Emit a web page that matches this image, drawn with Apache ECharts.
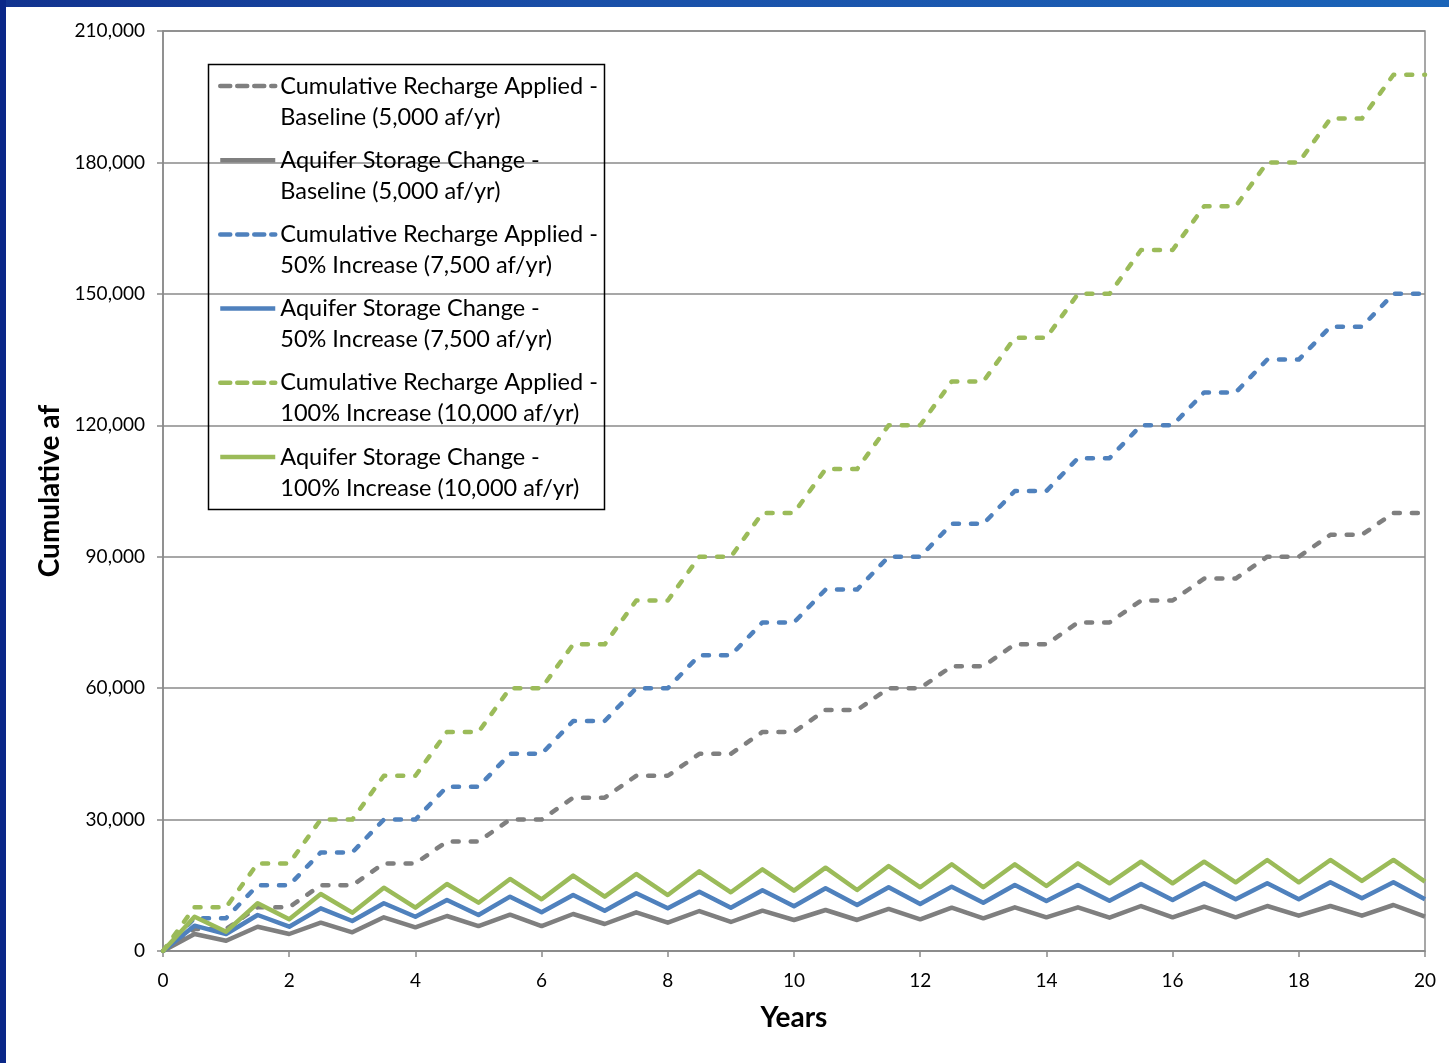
<!DOCTYPE html>
<html>
<head>
<meta charset="utf-8">
<script src="https://cdn.jsdelivr.net/npm/echarts@6/dist/echarts.min.js"></script>
<style>
  html, body { margin: 0; padding: 0; background: #fff; }
  #wrap { position: relative; width: 1449px; height: 1063px; overflow: hidden; background: #fff; }
  #chart { position: absolute; left: 0; top: 0; width: 1449px; height: 1063px; }
  .bar-top { position: absolute; left: 0; top: 0; width: 1449px; height: 7px;
             background: linear-gradient(to right, #12338f, #1a4fa8 40%, #1b64b8); }
  .bar-left { position: absolute; left: 0; top: 0; width: 6px; height: 1063px; background: #0a2788; }
</style>
</head>
<body>
<div id="wrap">
  <div id="chart"></div>
  <div class="bar-top"></div>
  <div class="bar-left"></div>
</div>
<script>
// Time axis, in years (half-year steps)
const years = [0,0.5,1,1.5,2,2.5,3,3.5,4,4.5,5,5.5,6,6.5,7,7.5,8,8.5,9,9.5,10,
               10.5,11,11.5,12,12.5,13,13.5,14,14.5,15,15.5,16,16.5,17,17.5,18,18.5,19,19.5,20];

// Cumulative recharge applied (af)
const rechargeBaseline = [0,5000,5000,10000,10000,15000,15000,20000,20000,25000,25000,
  30000,30000,35000,35000,40000,40000,45000,45000,50000,50000,55000,55000,60000,60000,
  65000,65000,70000,70000,75000,75000,80000,80000,85000,85000,90000,90000,95000,95000,100000,100000];
const recharge50 = [0,7500,7500,15000,15000,22500,22500,30000,30000,37500,37500,
  45000,45000,52500,52500,60000,60000,67500,67500,75000,75000,82500,82500,90000,90000,
  97500,97500,105000,105000,112500,112500,120000,120000,127500,127500,135000,135000,142500,142500,150000,150000];
const recharge100 = [0,10000,10000,20000,20000,30000,30000,40000,40000,50000,50000,
  60000,60000,70000,70000,80000,80000,90000,90000,100000,100000,110000,110000,120000,120000,
  130000,130000,140000,140000,150000,150000,160000,160000,170000,170000,180000,180000,190000,190000,200000,200000];

// Aquifer storage change (af)
const storageBaseline = [0,3880,2350,5550,3880,6460,4260,7690,5400,7990,5700,8290,5700,8450,6160,
  8830,6460,9130,6620,9200,7080,9360,7080,9590,7230,9890,7460,9970,7690,9970,7610,10270,7690,
  10120,7690,10270,8060,10270,8060,10500,7830];
const storage50 = [0,5780,3880,8220,5550,9740,6850,10890,7830,11640,8220,12400,8830,12780,9200,
  13170,9740,13540,9890,13860,10200,14310,10500,14540,10730,14690,11030,15070,11420,15070,11490,
  15300,11640,15450,11800,15450,11800,15680,12030,15680,11800];
const storage100 = [0,7830,4410,10890,7230,13010,8750,14450,9890,15300,11030,16440,11800,17200,12400,
  17580,12780,18190,13400,18650,13770,19020,13930,19400,14540,19790,14540,19790,14840,20020,15450,
  20390,15450,20390,15680,20780,15680,20780,15980,20780,15830];

const seriesNames = [
  'Cumulative Recharge Applied -\nBaseline (5,000 af/yr)',
  'Aquifer Storage Change -\nBaseline (5,000 af/yr)',
  'Cumulative Recharge Applied -\n50% Increase (7,500 af/yr)',
  'Aquifer Storage Change -\n50% Increase (7,500 af/yr)',
  'Cumulative Recharge Applied -\n100% Increase (10,000 af/yr)',
  'Aquifer Storage Change -\n100% Increase (10,000 af/yr)'
];
const seriesValues = [rechargeBaseline, storageBaseline, recharge50, storage50, recharge100, storage100];
const seriesColors = ['#7f7f7f', '#7f7f7f', '#4f81bd', '#4f81bd', '#9bbb59', '#9bbb59'];
const seriesDashed = [true, false, true, false, true, false];

const yTicks = [0, 30000, 60000, 90000, 120000, 150000, 180000, 210000];
const xTicks = [0, 2, 4, 6, 8, 10, 12, 14, 16, 18, 20];

const FONT = 'Lato, "Open Sans", sans-serif';

const series = seriesValues.map((vals, i) => ({
  name: seriesNames[i],
  type: 'line',
  data: vals.map((v, k) => [years[k], v]),
  symbol: 'none',
  smooth: false,
  z: 3 + i,
  lineStyle: {
    color: seriesColors[i],
    width: 4.5,
    type: seriesDashed[i] ? [6, 12] : 'solid',
    cap: seriesDashed[i] ? 'round' : 'butt',
    join: 'round'
  },
  itemStyle: { color: seriesColors[i] }
}));

const chart = echarts.init(document.getElementById('chart'), null, { renderer: 'canvas' });
chart.setOption({
  animation: false,
  backgroundColor: '#ffffff',
  grid: {
    left: 163, right: 24, top: 31, bottom: 112,
    show: true, borderColor: '#8a8a8a', borderWidth: 1.5, backgroundColor: 'transparent'
  },
  xAxis: {
    type: 'value',
    min: xTicks[0], max: xTicks[xTicks.length - 1], interval: 2,
    name: 'Years',
    nameLocation: 'middle',
    nameGap: 53,
    nameTextStyle: { fontFamily: FONT, fontSize: 28, fontWeight: 'bold', color: '#000' },
    axisLine: { show: true, lineStyle: { color: '#8a8a8a', width: 1.5 } },
    axisTick: { show: true, length: 6, lineStyle: { color: '#8a8a8a', width: 1.5 } },
    axisLabel: { fontFamily: FONT, fontSize: 19, color: '#000', margin: 20 },
    splitLine: { show: false }
  },
  yAxis: {
    type: 'value',
    min: yTicks[0], max: yTicks[yTicks.length - 1], interval: 30000,
    name: 'Cumulative af',
    nameLocation: 'middle',
    nameGap: 97,
    nameTextStyle: { fontFamily: FONT, fontSize: 28, fontWeight: 'bold', color: '#000' },
    axisLine: { show: true, lineStyle: { color: '#8a8a8a', width: 1.5 } },
    axisTick: { show: true, length: 6, lineStyle: { color: '#8a8a8a', width: 1.5 } },
    axisLabel: {
      fontFamily: FONT, fontSize: 19, color: '#000', margin: 18,
      formatter: v => v.toLocaleString('en-US')
    },
    splitLine: { show: true, lineStyle: { color: '#8a8a8a', width: 1.5 } }
  },
  legend: {
    orient: 'vertical',
    left: 218,
    top: 39.5,
    padding: 0,
    itemWidth: 55,
    itemHeight: 14,
    itemGap: -18.8,
    selectedMode: false,
    // leading blank line puts the sample line beside the first text line
    formatter: name => '\n' + name,
    data: seriesNames.map((n, i) => ({
      name: n,
      itemStyle: { color: 'transparent', borderWidth: 0, opacity: 0 },
      lineStyle: { type: seriesDashed[i] ? [10, 7] : 'solid', width: 4.5, cap: seriesDashed[i] ? 'round' : 'butt' }
    })),
    textStyle: {
      fontFamily: FONT, fontSize: 23.5, color: '#000', lineHeight: 31
    }
  },
  graphic: [{
    type: 'rect',
    silent: true,
    z: 100,
    shape: { x: 208.5, y: 64.5, width: 396, height: 445 },
    style: { fill: 'none', stroke: '#000', lineWidth: 1.5 }
  }],
  series: series
});
</script>
</body>
</html>
